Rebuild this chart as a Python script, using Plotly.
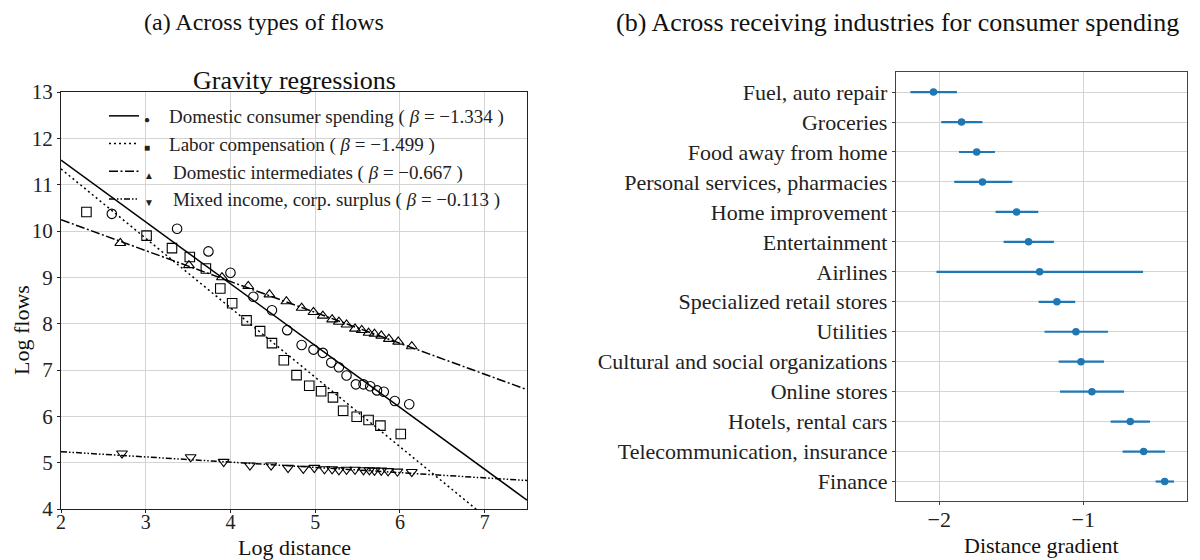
import numpy as np
import plotly.graph_objects as go

# ---------------- Panel (a) data ----------------
cons_x = [2.60, 3.37, 3.74, 4.00, 4.27, 4.49, 4.67, 4.84, 4.98, 5.09,
          5.19, 5.28, 5.37, 5.48, 5.57, 5.65, 5.73, 5.81, 5.94, 6.11]
cons_y = [10.37, 10.05, 9.56, 9.10, 8.58, 8.29, 7.86, 7.54, 7.44, 7.37,
          7.16, 7.06, 6.88, 6.69, 6.69, 6.65, 6.56, 6.53, 6.33, 6.26]

labor_x = [2.30, 3.01, 3.31, 3.52, 3.71, 3.88, 4.02, 4.19, 4.35, 4.49,
           4.63, 4.78, 4.93, 5.07, 5.21, 5.33, 5.49, 5.63, 5.77, 6.01]
labor_y = [10.41, 9.90, 9.63, 9.44, 9.19, 8.76, 8.44, 8.07, 7.84, 7.58,
           7.21, 6.89, 6.66, 6.54, 6.41, 6.12, 5.99, 5.92, 5.80, 5.62]

inter_x = [2.70, 3.51, 3.90, 4.21, 4.46, 4.66, 4.84, 4.98, 5.09, 5.20,
           5.28, 5.37, 5.47, 5.55, 5.63, 5.70, 5.78, 5.87, 5.98, 6.14]
inter_y = [9.74, 9.26, 9.00, 8.81, 8.63, 8.48, 8.34, 8.25, 8.17, 8.09,
           8.04, 7.98, 7.89, 7.86, 7.80, 7.78, 7.74, 7.67, 7.61, 7.51]

mixed_x = [2.72, 3.53, 3.92, 4.23, 4.48, 4.68, 4.86, 4.99, 5.11, 5.20,
           5.28, 5.37, 5.47, 5.57, 5.64, 5.70, 5.78, 5.86, 5.97, 6.14]
mixed_y = [5.20, 5.12, 5.02, 4.94, 4.94, 4.89, 4.87, 4.89, 4.86, 4.86,
           4.84, 4.85, 4.85, 4.84, 4.84, 4.83, 4.83, 4.82, 4.81, 4.80]

betas = [-1.334, -1.499, -0.667, -0.113]
series_names = ["Domestic consumer spending", "Labor compensation",
                "Domestic intermediates", "Mixed income, corp. surplus"]
x_ticks_a = [2, 3, 4, 5, 6, 7]
y_ticks_a = [4, 5, 6, 7, 8, 9, 10, 11, 12, 13]

# ---------------- Panel (b) data ----------------
industries = ["Fuel, auto repair", "Groceries", "Food away from home",
              "Personal services, pharmacies", "Home improvement", "Entertainment",
              "Airlines", "Specialized retail stores", "Utilities",
              "Cultural and social organizations", "Online stores",
              "Hotels, rental cars", "Telecommunication, insurance", "Finance"]
gradient = [-2.04, -1.845, -1.74, -1.70, -1.463, -1.38, -1.303, -1.183,
            -1.051, -1.016, -0.94, -0.674, -0.581, -0.435]
ci_low = [-2.20, -1.986, -1.863, -1.896, -1.609, -1.553, -2.019, -1.31,
          -1.269, -1.171, -1.162, -0.81, -0.727, -0.498]
ci_high = [-1.877, -1.70, -1.613, -1.493, -1.3125, -1.204, -0.585, -1.056,
           -0.828, -0.856, -0.717, -0.537, -0.433, -0.37]
x_ticks_b = [-2, -1]

# ---------------- styling ----------------
SERIF = "Liberation Serif, Times New Roman, serif"
GRID = "#d4d4d4"
BLUE = "#1f77b4"

# page has an 8px body margin; figure is sized to fit the 1200x560 window
OFF = 8
W, H = 1200 - OFF, 560 - OFF


def px(x):
    return (x - OFF) / W


def py(y):
    return 1 - (y - OFF) / H


fig = go.Figure()

open_symbols = ["circle-open", "square-open", "triangle-up-open", "triangle-down-open"]
legend_chars = ["●", "■", "▲", "▼"]
dashes = ["solid", "2px,3px", "9px,2.5px,2px,2.5px", "6px,2px,1.5px,2px,1.5px,2px"]
xs = [cons_x, labor_x, inter_x, mixed_x]
ys = [cons_y, labor_y, inter_y, mixed_y]
fit_domain = [2.0, 7.5]

for i in range(4):
    b = betas[i]
    a = float(np.mean(ys[i]) - b * np.mean(xs[i]))
    fy = [a + b * xv for xv in fit_domain]
    nm = (f"<span style='font-size:10px'>{legend_chars[i]}</span>\u00a0\u00a0\u00a0\u00a0"
          f"{series_names[i]} ( <i>β</i> = −{abs(b):.3f} )")
    fig.add_trace(go.Scatter(
        x=fit_domain, y=fy, mode="lines", name=nm, legendgroup=f"g{i}",
        line=dict(color="black", width=1.5, dash=dashes[i]),
        xaxis="x", yaxis="y", hoverinfo="skip"))
    fig.add_trace(go.Scatter(
        x=xs[i], y=ys[i], mode="markers", showlegend=False, legendgroup=f"g{i}",
        marker=dict(symbol=open_symbols[i], size=9.5, color="black",
                    line=dict(width=1.1, color="black")),
        xaxis="x", yaxis="y"))

# panel (b)
err_plus = [h - g for h, g in zip(ci_high, gradient)]
err_minus = [g - l for g, l in zip(gradient, ci_low)]
fig.add_trace(go.Scatter(
    x=gradient, y=industries, mode="markers", showlegend=False,
    marker=dict(color=BLUE, size=7.5),
    error_x=dict(type="data", array=err_plus, arrayminus=err_minus,
                 color=BLUE, thickness=2.2, width=0),
    xaxis="x2", yaxis="y2"))

axis_common = dict(showline=True, mirror=True, linewidth=1.3, showgrid=True,
                   gridcolor=GRID, gridwidth=1, zeroline=False, ticks="outside",
                   ticklen=3, tickwidth=1, automargin=False)

fig.update_layout(
    template="none",
    width=W, height=H,
    margin=dict(l=0, r=0, t=0, b=0, pad=0, autoexpand=False),
    paper_bgcolor="white", plot_bgcolor="white",
    font=dict(family=SERIF, color="#222"),
    showlegend=True,
    legend=dict(x=px(104), y=py(97), xanchor="left", yanchor="top",
                bgcolor="rgba(0,0,0,0)", borderwidth=0, tracegroupgap=0,
                font=dict(family=SERIF, size=19, color="#222"), itemwidth=30),
    xaxis=dict(domain=[px(61), px(527)], range=[2, 7.5], tickvals=x_ticks_a,
               linecolor="#222", tickcolor="#222", anchor="y", ticklabelstandoff=-8,
               tickfont=dict(family=SERIF, size=20, color="#222"), **axis_common),
    yaxis=dict(domain=[py(509), py(92)], range=[4, 13], tickvals=y_ticks_a,
               linecolor="#222", tickcolor="#222", anchor="x",
               tickfont=dict(family=SERIF, size=21, color="#222"), **axis_common),
    xaxis2=dict(domain=[px(896), px(1187)], range=[-2.30, -0.28], tickvals=x_ticks_b,
                linecolor="#444", tickcolor="#444", anchor="y2", ticklabelstandoff=-5,
                tickfont=dict(family=SERIF, size=22, color="#222"), **axis_common),
    yaxis2=dict(domain=[py(501), py(72)], type="category", categoryorder="array",
                categoryarray=industries, range=[13.65, -0.67],
                linecolor="#444", tickcolor="#444", anchor="x2",
                tickfont=dict(family=SERIF, size=22, color="#222"), **axis_common),
)

ann = [
    dict(text="(a) Across types of flows", x=264, y=22, size=24),
    dict(text="(b) Across receiving industries for consumer spending", x=898, y=22, size=26),
    dict(text="Gravity regressions", x=294, y=80, size=26),
    dict(text="Log distance", x=294, y=547, size=22),
    dict(text="Distance gradient", x=1041, y=545, size=22),
]
for a_ in ann:
    fig.add_annotation(text=a_["text"], x=px(a_["x"]), y=py(a_["y"]), xref="paper", yref="paper",
                       showarrow=False, xanchor="center", yanchor="middle",
                       font=dict(family=SERIF, size=a_["size"], color="#111"))
fig.add_annotation(text="Log flows", x=px(21), y=py(330), xref="paper", yref="paper",
                   showarrow=False, textangle=-90, xanchor="center", yanchor="middle",
                   font=dict(family=SERIF, size=22, color="#111"))

fig.write_html("out.html")
